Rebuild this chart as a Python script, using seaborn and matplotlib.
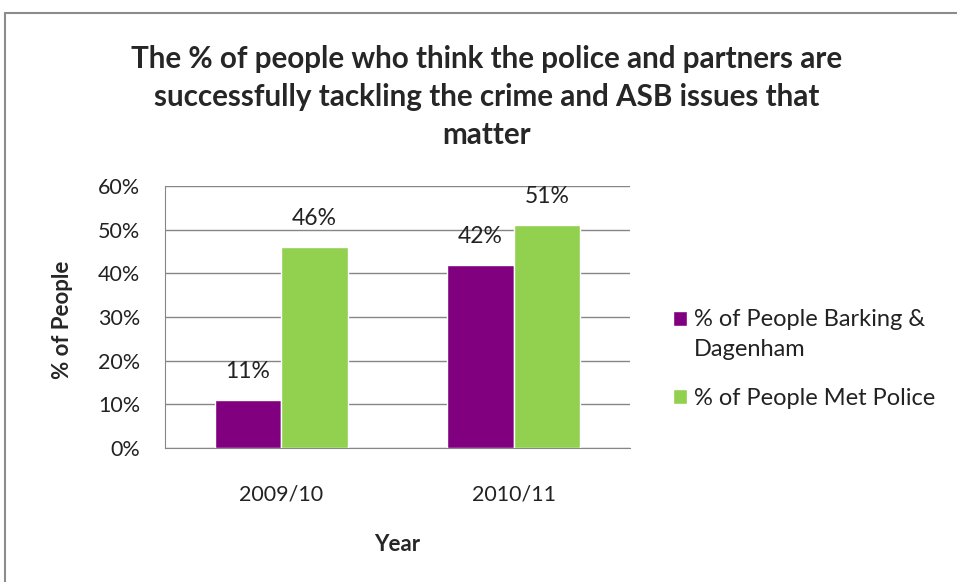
import matplotlib
matplotlib.use("Agg")
import matplotlib.pyplot as plt
import seaborn as sns
import pandas as pd
from matplotlib.lines import Line2D
from matplotlib.patches import Rectangle
from matplotlib.legend_handler import HandlerPatch
from matplotlib.ticker import MultipleLocator, FixedLocator, PercentFormatter

years = ["2009/10", "2010/11"]
series_names = ["% of People Barking &\nDagenham", "% of People Met Police"]
barking = [11, 42]
met = [46, 51]
colors = ["#800080", "#92D050"]

df = pd.DataFrame({
    "Year": years * 2,
    "Series": [series_names[0]] * 2 + [series_names[1]] * 2,
    "Value": barking + met,
})

sns.set_style("white")
plt.rcParams["font.family"] = ["Lato", "DejaVu Sans"]

fig = plt.figure(figsize=(9.57, 5.82), dpi=100)
ax = fig.add_axes([165/957, 1-448/582, (630-165)/957, (448-186)/582])

sns.barplot(data=df, x="Year", y="Value", hue="Series", palette=colors,
            width=2/3.5, ax=ax, saturation=1, zorder=3)

ax.set_ylim(0, 60)
ax.set_xlim(-0.5, 1.5)
ax.yaxis.set_major_locator(MultipleLocator(10))
ax.yaxis.set_major_formatter(PercentFormatter(decimals=0))
ax.grid(axis="y", color="#868686", linewidth=1, zorder=0)
ax.set_axisbelow(True)
for s in ["top", "right"]:
    ax.spines[s].set_visible(False)
for s in ["left", "bottom"]:
    ax.spines[s].set_color("#868686")
ax.tick_params(axis="y", length=7, color="#868686", labelsize=15.5, pad=11,
               labelcolor="#222222")
ax.tick_params(axis="x", which="major", length=0, labelsize=15.5, pad=26,
               labelcolor="#222222")
ax.xaxis.set_minor_locator(FixedLocator([-0.5, 0.5, 1.5]))
ax.tick_params(axis="x", which="minor", length=7, color="#868686")

for cont in ax.containers:
    ax.bar_label(cont, labels=[f"{v:.0f}%" for v in cont.datavalues],
                 padding=13, fontsize=16.5, color="#222222")

ax.set_xlabel("Year", fontsize=16, fontweight="bold")
ax.xaxis.set_label_coords(0.5, (448-534)/262)
ax.set_ylabel("% of People", fontsize=16, fontweight="bold")
ax.yaxis.set_label_coords((73-165)/465, 0.49)


def first_line_patch(legend, orig_handle, xdescent, ydescent, width, height, fontsize):
    return Rectangle((-xdescent, -ydescent + 11.2), width, height)


handles, labels = ax.get_legend_handles_labels()
leg = ax.legend(handles, labels, loc="upper left",
                bbox_to_anchor=(673/957, 1-309/582),
                bbox_transform=fig.transFigure, frameon=False, fontsize=17,
                handlelength=0.6, handleheight=0.6, handletextpad=0.28,
                labelspacing=1.2, borderaxespad=0, borderpad=0,
                handler_map={handles[0]: HandlerPatch(patch_func=first_line_patch)})
for t in leg.get_texts():
    t.set_linespacing(1.5)
    t.set_color("#222222")

fig.text(487/957, 1-97/582,
         "The % of people who think the police and partners are\n"
         "successfully tackling the crime and ASB issues that\nmatter",
         ha="center", va="center", fontsize=21.3, fontweight="bold",
         linespacing=1.45)

fig.add_artist(Line2D([5/957, 5/957], [0, 1-13/582], transform=fig.transFigure,
                      color="#8c8c8c", linewidth=1.5))
fig.add_artist(Line2D([5/957, 1], [1-13/582, 1-13/582], transform=fig.transFigure,
                      color="#8c8c8c", linewidth=1.5))

fig.savefig("out.png", dpi=100)
